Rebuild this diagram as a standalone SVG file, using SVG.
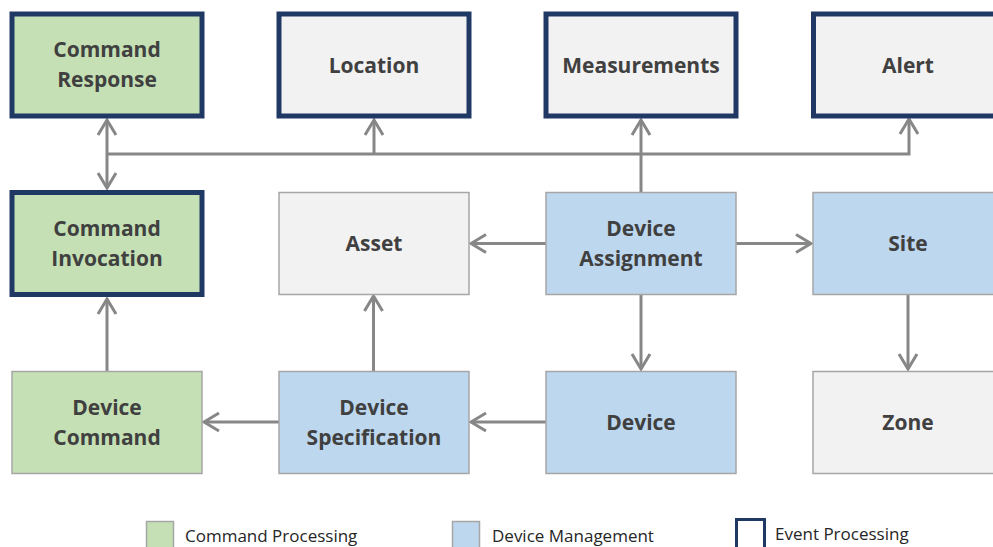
<svg xmlns="http://www.w3.org/2000/svg" width="993" height="547" viewBox="0 0 993 547">
  <style>
    .box { stroke: #a6a6a6; stroke-width: 1.5; }
    .evt { stroke: #1f3864; stroke-width: 5; }
    .cmd { fill: #c5e0b4; }
    .dev { fill: #bdd7ee; }
    .plain { fill: #f2f2f2; }
    .label { font-family: "Open Sans", "Noto Sans", sans-serif; font-weight: bold; font-size: 21px; fill: #404040; text-anchor: middle; }
    .legend { font-family: "Open Sans", "Noto Sans", sans-serif; font-size: 17px; fill: #262626; }
    .link { fill: none; stroke: #878787; stroke-width: 3; }
  </style>
  <defs>
    <marker id="arrow" markerUnits="userSpaceOnUse" viewBox="-18 -11 20 22" refX="0" refY="0" markerWidth="20" markerHeight="22" orient="auto-start-reverse">
      <path d="M-15,-9 L0,0 L-15,9" fill="none" stroke="#878787" stroke-width="3" stroke-linejoin="miter"/>
    </marker>
  </defs>

  <rect width="993" height="547" fill="#ffffff"/>

  <!-- connectors -->
  <g id="connectors" class="link">
    <!-- event bus -->
    <path d="M107,154 H909 V119" marker-end="url(#arrow)"/>
    <path d="M107,120 V188" marker-start="url(#arrow)" marker-end="url(#arrow)"/>
    <path d="M374,154 V120" marker-end="url(#arrow)"/>
    <path d="M641,192 V120" marker-end="url(#arrow)"/>
    <!-- device assignment links -->
    <path d="M546,243.5 H471" marker-end="url(#arrow)"/>
    <path d="M736,243.5 H811" marker-end="url(#arrow)"/>
    <path d="M641,294 V369" marker-end="url(#arrow)"/>
    <path d="M908,294 V369" marker-end="url(#arrow)"/>
    <!-- bottom row -->
    <path d="M546,422 H471" marker-end="url(#arrow)"/>
    <path d="M279,422 H204" marker-end="url(#arrow)"/>
    <path d="M373.5,371 V296" marker-end="url(#arrow)"/>
    <path d="M107,371 V299" marker-end="url(#arrow)"/>
  </g>

  <!-- top row -->
  <g id="command-response">
    <rect class="cmd evt" x="12" y="14" width="190" height="102"/>
    <text class="label" x="107" y="57">Command</text>
    <text class="label" x="107" y="87">Response</text>
  </g>
  <g id="location">
    <rect class="plain evt" x="279" y="14" width="190" height="102"/>
    <text class="label" x="374" y="73">Location</text>
  </g>
  <g id="measurements">
    <rect class="plain evt" x="546" y="14" width="190" height="102"/>
    <text class="label" x="641" y="73">Measurements</text>
  </g>
  <g id="alert">
    <rect class="plain evt" x="813.5" y="14" width="190" height="102"/>
    <text class="label" x="908" y="73">Alert</text>
  </g>

  <!-- middle row -->
  <g id="command-invocation">
    <rect class="cmd evt" x="12" y="192.5" width="190" height="102"/>
    <text class="label" x="107" y="236">Command</text>
    <text class="label" x="107" y="266">Invocation</text>
  </g>
  <g id="asset">
    <rect class="plain box" x="279" y="192.5" width="190" height="102"/>
    <text class="label" x="374" y="251">Asset</text>
  </g>
  <g id="device-assignment">
    <rect class="dev box" x="546" y="192.5" width="190" height="102"/>
    <text class="label" x="641" y="236">Device</text>
    <text class="label" x="641" y="266">Assignment</text>
  </g>
  <g id="site">
    <rect class="dev box" x="813" y="192.5" width="190" height="102"/>
    <text class="label" x="908" y="251">Site</text>
  </g>

  <!-- bottom row -->
  <g id="device-command">
    <rect class="cmd box" x="12" y="371.5" width="190" height="102"/>
    <text class="label" x="107" y="415">Device</text>
    <text class="label" x="107" y="445">Command</text>
  </g>
  <g id="device-specification">
    <rect class="dev box" x="279" y="371.5" width="190" height="102"/>
    <text class="label" x="374" y="415">Device</text>
    <text class="label" x="374" y="445">Specification</text>
  </g>
  <g id="device">
    <rect class="dev box" x="546" y="371.5" width="190" height="102"/>
    <text class="label" x="641" y="430">Device</text>
  </g>
  <g id="zone">
    <rect class="plain box" x="813" y="371.5" width="190" height="102"/>
    <text class="label" x="908" y="430">Zone</text>
  </g>

  <!-- legend -->
  <g id="legend">
    <rect class="cmd box" x="146.5" y="521.5" width="27" height="30"/>
    <text class="legend" x="185" y="542">Command Processing</text>
    <rect class="dev box" x="452.5" y="521.5" width="27" height="30"/>
    <text class="legend" x="492" y="542">Device Management</text>
    <rect fill="#ffffff" stroke="#1f3864" stroke-width="3" x="736.5" y="519.5" width="28" height="32"/>
    <text class="legend" x="775" y="540">Event Processing</text>
  </g>
</svg>
